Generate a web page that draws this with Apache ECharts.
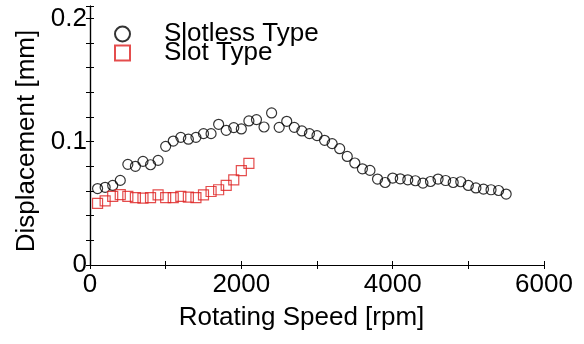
<!DOCTYPE html>
<html>
<head>
<meta charset="utf-8">
<script src="https://cdn.jsdelivr.net/npm/echarts@6/dist/echarts.min.js"></script>
<style>
html,body{margin:0;padding:0;background:#fff;}
#chart{width:584px;height:344px;}
</style>
</head>
<body>
<div id="chart"></div>
<script>
var seriesNames = ['Slotless Type', 'Slot Type'];

var slotlessSpeed = [100,200,300,400,500,600,700,800,900,1000,1100,1200,1300,1400,1500,1600,1700,1800,1900,2000,2100,2200,2300,2400,2500,2600,2700,2800,2900,3000,3100,3200,3300,3400,3500,3600,3700,3800,3900,4000,4100,4200,4300,4400,4500,4600,4700,4800,4900,5000,5100,5200,5300,5400,5500];
var slotlessDisp = [0.062,0.063,0.0645,0.0686,0.0816,0.080,0.084,0.0813,0.0848,0.0962,0.1005,0.1035,0.102,0.1035,0.1065,0.1065,0.1141,0.1092,0.1114,0.1103,0.1168,0.1179,0.1119,0.1233,0.1116,0.1165,0.1116,0.1087,0.1065,0.1049,0.1011,0.0984,0.0943,0.088,0.0827,0.078,0.0767,0.0697,0.0669,0.0705,0.0699,0.0691,0.0683,0.0664,0.0677,0.0697,0.0685,0.0669,0.0675,0.0645,0.0625,0.0615,0.061,0.0604,0.0575];

var slotSpeed = [100,200,300,400,500,600,700,800,900,1000,1100,1200,1300,1400,1500,1600,1700,1800,1900,2000,2100];
var slotDisp = [0.050,0.052,0.0556,0.057,0.0556,0.0547,0.0542,0.0547,0.0569,0.0547,0.0547,0.0556,0.055,0.0547,0.0569,0.0596,0.061,0.0645,0.069,0.0765,0.0824];

var xTickLabels = ['0','2000','4000','6000'];
var yTickLabels = ['0','0.1','0.2'];

function pairs(xs, ys){ return xs.map(function(x,i){ return [x, ys[i]]; }); }
function fmtX(v){ var s = String(Math.round(v)); return xTickLabels.indexOf(s) >= 0 ? s : ''; }
function fmtY(v){
  for (var i=0;i<yTickLabels.length;i++){ if (Math.abs(v - parseFloat(yTickLabels[i])) < 1e-9) return yTickLabels[i]; }
  return '';
}

var FONT = 'Liberation Sans';
var chart = echarts.init(document.getElementById('chart'), null, {renderer:'canvas'});
var axisLine = {show:true, lineStyle:{color:'#000', width:1.2}};
var tick = {show:true, inside:true, length:4, lineStyle:{color:'#000', width:1}};

chart.setOption({
  animation:false,
  backgroundColor:'#fff',
  textStyle:{fontFamily:FONT},
  grid:{left:90, right:40, top:6, bottom:79, containLabel:false},
  legend:{
    orient:'vertical', left:114, top:21, itemGap:-7, padding:0,
    itemWidth:15, itemHeight:15,
    textStyle:{fontFamily:FONT, fontSize:26, color:'#000', padding:[0,0,0,29]},
    data:seriesNames
  },
  xAxis:[{
    type:'value', min:0, max:6000, interval:1000, position:'bottom',
    axisLine:axisLine, axisTick:tick, splitLine:{show:false},
    axisLabel:{formatter:fmtX, fontFamily:FONT, fontSize:26, color:'#000', margin:7},
    name:'Rotating Speed [rpm]', nameLocation:'middle', nameGap:40,
    nameTextStyle:{fontFamily:FONT, fontSize:26, color:'#000', padding:[0,31,0,0]}
  },{
    type:'value', min:0, max:6000, interval:1000, position:'top',
    axisLine:axisLine, axisTick:tick, axisLabel:{show:false}, splitLine:{show:false}
  }],
  yAxis:[{
    type:'value', min:0, max:0.21, interval:0.02, position:'left',
    axisLine:axisLine, axisTick:tick, splitLine:{show:false},
    axisLabel:{formatter:fmtY, fontFamily:FONT, fontSize:26, color:'#000', margin:3},
    name:'Displacement [mm]', nameLocation:'middle', nameGap:50,
    nameTextStyle:{fontFamily:FONT, fontSize:26, color:'#000', padding:[0,11,0,0]}
  },{
    type:'value', min:0, max:0.21, interval:0.02, position:'right',
    axisLine:axisLine, axisTick:tick, axisLabel:{show:false}, splitLine:{show:false}
  }],
  series:[{
    name:seriesNames[0], type:'scatter', symbol:'circle', symbolSize:10,
    itemStyle:{color:'rgba(255,255,255,0)', borderColor:'#000', borderWidth:1.2},
    data:pairs(slotlessSpeed, slotlessDisp)
  },{
    name:seriesNames[1], type:'scatter', symbol:'rect', symbolSize:10,
    itemStyle:{color:'rgba(255,255,255,0)', borderColor:'#dd2020', borderWidth:1.2},
    data:pairs(slotSpeed, slotDisp)
  }]
});
</script>
</body>
</html>
